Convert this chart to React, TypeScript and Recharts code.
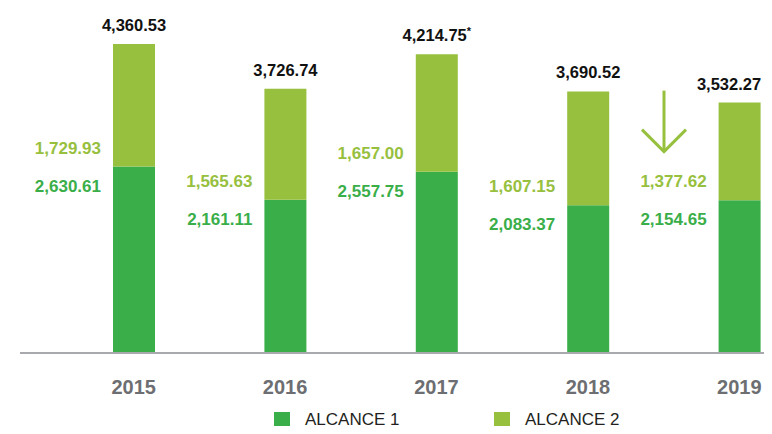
import React from 'react';
import { BarChart, Bar, XAxis, YAxis, LabelList } from 'recharts';

const years = ['2015', '2016', '2017', '2018', '2019'];
const alcance1 = [2630.61, 2161.11, 2557.75, 2083.37, 2154.65];
const alcance2 = [1729.93, 1565.63, 1657.0, 1607.15, 1377.62];
const totals = [4360.53, 3726.74, 4214.75, 3690.52, 3532.27];
const totalNotes = ['', '', '*', '', ''];
const legendLabels = ['ALCANCE 1', 'ALCANCE 2'];

const DARK = '#3AAE49';
const LIGHT = '#97C03E';
const FONT = '"Liberation Sans", Arial, sans-serif';
const CHART_W = 764;
const SAFE_RIGHT = CHART_W - 10;

const data = years.map((y, i) => ({
  year: y,
  a1: alcance1[i],
  a2: alcance2[i],
  total: totals[i],
  note: totalNotes[i],
}));

const fmt = (v: number) =>
  Number(v).toLocaleString('en-US', { minimumFractionDigits: 2, maximumFractionDigits: 2 });

const A1Label = (p: any) => (
  <text
    x={Number(p.x) - 12}
    y={Number(p.y) + 25}
    textAnchor="end"
    fill={DARK}
    fontFamily={FONT}
    fontWeight={700}
    fontSize={17}
  >
    {fmt(p.value)}
  </text>
);

const A2Label = (p: any) => (
  <text
    x={Number(p.x) - 12}
    y={Number(p.y) + Number(p.height) - 13}
    textAnchor="end"
    fill={LIGHT}
    fontFamily={FONT}
    fontWeight={700}
    fontSize={17}
  >
    {fmt(p.value)}
  </text>
);

const TotalLabel = (p: any) => {
  const x = Number(p.x);
  const y = Number(p.y);
  const w = Number(p.width);
  const cx = x + w / 2;
  const note = totalNotes[p.index];
  const half = 33;
  const tx = Math.min(cx, SAFE_RIGHT - half);
  const ax = cx - 75.6;
  return (
    <g>
      <text
        x={tx}
        y={y - 13}
        textAnchor="middle"
        fill="#111"
        fontFamily={FONT}
        fontWeight={700}
        fontSize={16.5}
      >
        {fmt(p.value)}
        {note ? (
          <tspan fontSize={11} dy={-6}>
            {note}
          </tspan>
        ) : null}
      </text>
      {p.index === 4 ? (
        <g stroke={LIGHT} strokeWidth={3} fill="none">
          <line x1={ax} y1={y - 12} x2={ax} y2={y + 48} />
          <polyline points={`${ax - 22},${y + 27} ${ax},${y + 49} ${ax + 22},${y + 27}`} />
        </g>
      ) : null}
    </g>
  );
};

const YearTick = (p: any) => (
  <text
    x={p.x}
    y={Number(p.y) + 33}
    textAnchor="middle"
    fill="#6D6E71"
    fontFamily={FONT}
    fontWeight={700}
    fontSize={20}
  >
    {p.payload.value}
  </text>
);

export default function App() {
  return (
    <div style={{ position: 'relative', width: CHART_W, height: 418 }}>
      <BarChart
        width={CHART_W}
        height={418}
        data={data}
        margin={{ top: 26, right: 0, left: 12, bottom: 33 }}
      >
        <YAxis hide domain={[0, 4500]} />
        <XAxis
          dataKey="year"
          axisLine={{ stroke: '#A7A9AC', strokeWidth: 2 }}
          tickLine={false}
          tick={<YearTick />}
          padding={{ left: 38, right: -43 }}
          height={40}
          interval={0}
        />
        <Bar dataKey="a1" stackId="s" fill={DARK} barSize={42} isAnimationActive={false}>
          <LabelList dataKey="a1" content={<A1Label />} />
        </Bar>
        <Bar dataKey="a2" stackId="s" fill={LIGHT} barSize={42} isAnimationActive={false}>
          <LabelList dataKey="a2" content={<A2Label />} />
          <LabelList dataKey="total" content={<TotalLabel />} />
        </Bar>
      </BarChart>
      {legendLabels.map((label, i) => (
        <div
          key={label}
          style={{
            position: 'absolute',
            left: 266 + i * 220,
            top: 404,
            display: 'flex',
            alignItems: 'center',
            fontFamily: FONT,
            fontSize: 17,
            color: '#231F20',
            lineHeight: '16px',
          }}
        >
          <span
            style={{
              display: 'inline-block',
              width: 16,
              height: 16,
              background: i === 0 ? DARK : LIGHT,
              marginRight: 15,
            }}
          />
          <span>{label}</span>
        </div>
      ))}
    </div>
  );
}
